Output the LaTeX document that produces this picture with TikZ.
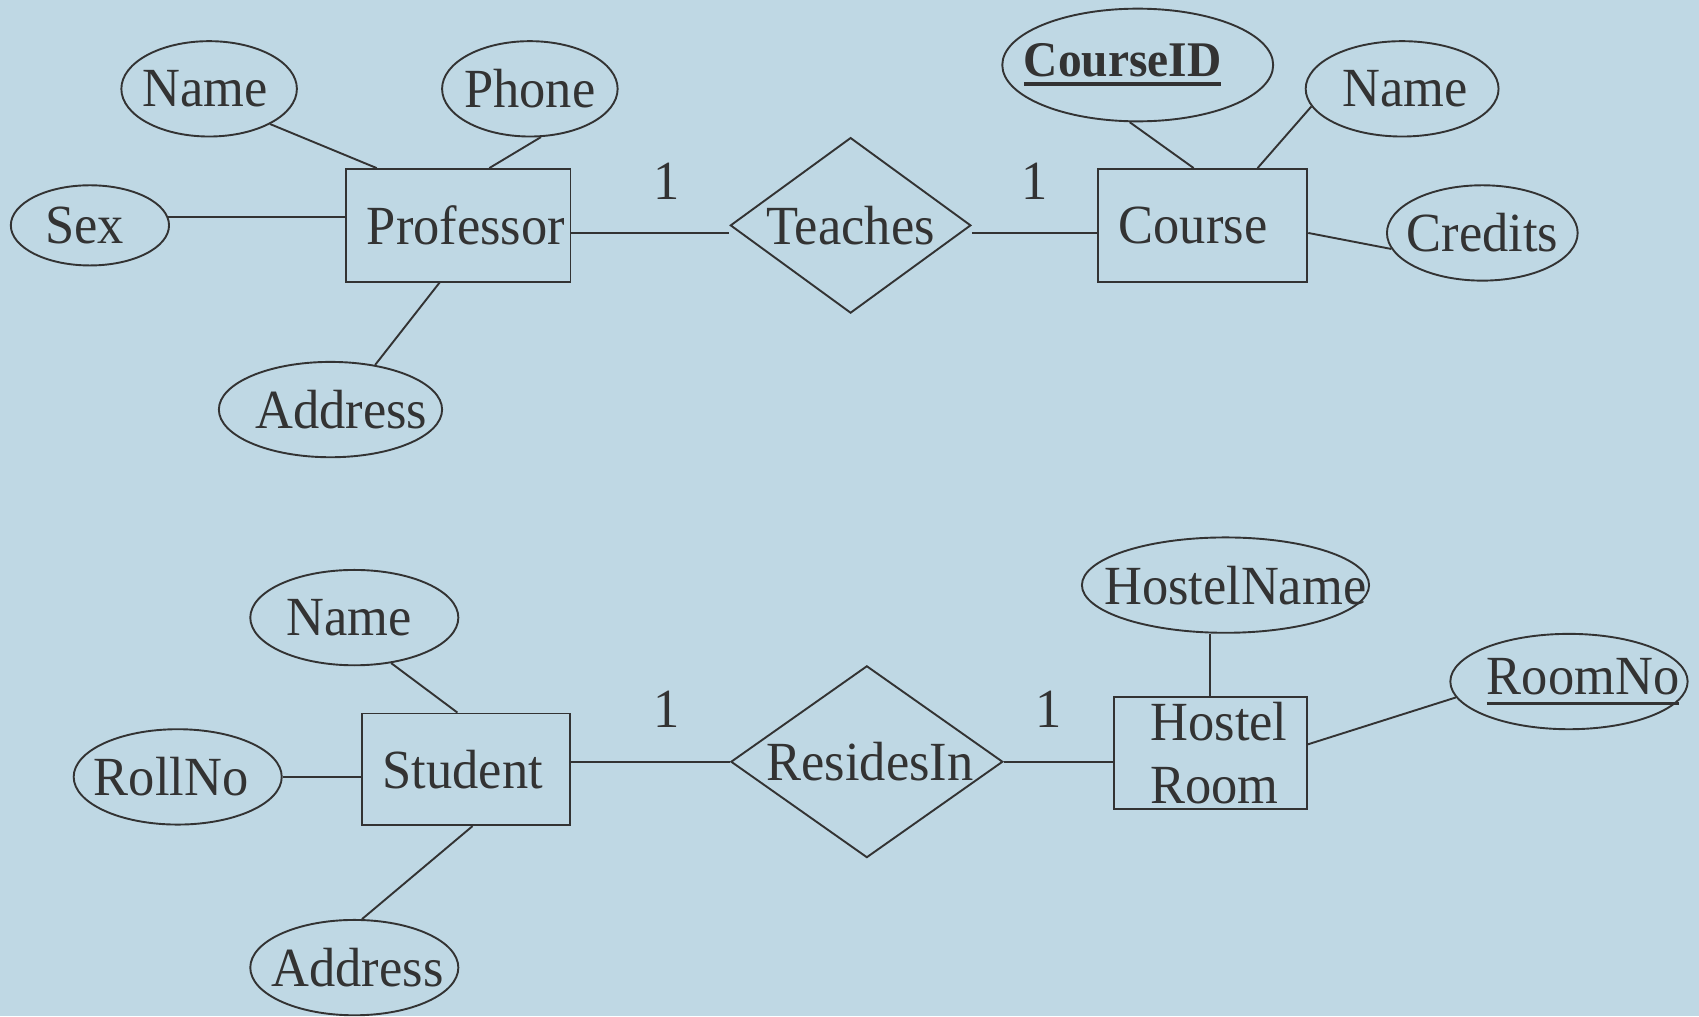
\documentclass[tikz,border=0pt]{standalone}
\usepackage{fontspec}
\setmainfont{Liberation Serif}[FakeStretch=0.95]
\usepackage{graphicx}
\usepackage{tikz}
\usetikzlibrary{shapes.geometric}

\definecolor{bgblue}{RGB}{191,216,228}
\definecolor{ink}{RGB}{51,51,51}
\newcommand{\nobox}[2][0pt]{\kern#1\makebox[0pt]{#2}\kern-#1}
\newcommand{\keyul}[3]{\setbox0=\hbox{#3}\rlap{\rule[#1]{\wd0}{#2}}\box0}
\tikzset{
  entity/.style 2 args={draw, rectangle, minimum width=#1, minimum height=#2, inner sep=0pt},
  attr/.style 2 args={draw, ellipse, minimum width=#1, minimum height=#2, inner sep=0pt},
  rel/.style 2 args={draw, diamond, minimum width=#1, minimum height=#2, inner sep=0pt},
}

\begin{document}
\begin{tikzpicture}[font=\fontsize{14.5}{16.5}\selectfont, color=ink, line width=0.5pt]
      \fill[bgblue] (0,0) rectangle (15.68,9.38);
      \useasboundingbox (0,0) rectangle (15.68,9.38);
      % professor teaches course
      \node[entity={2.07cm}{1.04cm}] (prof) at (4.23,7.30) {\nobox[0.07cm]{Professor}};
      \node[attr={1.62cm}{0.88cm}] (pname) at (1.93,8.56) {\nobox[-0.04cm]{Name}};
      \node[attr={1.62cm}{0.88cm}] (pphone) at (4.89,8.56) {\nobox{Phone}};
      \node[attr={1.46cm}{0.74cm}] (psex) at (0.83,7.30) {\nobox[-0.05cm]{Sex}};
      \node[attr={2.06cm}{0.88cm}] (paddr) at (3.05,5.60) {\nobox[0.10cm]{Address}};
      \node[rel={2.22cm}{1.62cm}] (teach) at (7.85,7.30) {\nobox{Teaches}};
      \node[entity={1.93cm}{1.04cm}] (course) at (11.10,7.30) {\nobox[-0.09cm]{Course}};
      \node[attr={2.50cm}{1.04cm}] (cid) at (10.50,8.78)
        {\nobox[-0.14cm]{\fontsize{13.1}{15}\selectfont\bfseries\keyul{-2.6pt}{1.2pt}{CourseID}}};
      \node[attr={1.78cm}{0.88cm}] (cname) at (12.94,8.56) {\nobox[0.03cm]{Name}};
      \node[attr={1.76cm}{0.88cm}] (credits) at (13.68,7.23) {\nobox{Credits}};
      \node (ta) at (6.15,7.71) {1};
      \node (tb) at (9.55,7.71) {1};
      \draw (pname.-30) -- ([xshift=0.29cm]prof.north west);
      \draw (pphone.-77) -- ([xshift=1.33cm]prof.north west);
      \draw (psex.6) -- (psex.6 -| prof.west);
      \draw (paddr.45) -- ([xshift=0.87cm]prof.south west);
      \draw ([yshift=-0.07cm]prof.east) -- ([yshift=-0.07cm]teach.west);
      \draw ([yshift=-0.07cm]teach.east) -- ([yshift=-0.07cm]course.west);
      \draw (cid.-98) -- ([xshift=0.89cm]course.north west);
      \draw (cname.191) -- ([xshift=1.48cm]course.north west);
      \draw ([yshift=-0.07cm]course.east) -- (credits.190);
      % student resides in hostel room
      \node[entity={1.92cm}{1.03cm}] (stud) at (4.30,2.28) {\nobox[-0.03cm]{Student}};
      \node[attr={1.92cm}{0.88cm}] (sname) at (3.27,3.68) {\nobox[-0.05cm]{Name}};
      \node[attr={1.92cm}{0.88cm}] (roll) at (1.64,2.21) {\nobox[-0.06cm]{RollNo}};
      \node[attr={1.92cm}{0.88cm}] (saddr) at (3.27,0.45) {\nobox[0.03cm]{Address}};
      \node[rel={2.51cm}{1.77cm}] (resides) at (8.00,2.35) {\nobox[0.03cm]{ResidesIn}};
      \node[entity={1.78cm}{1.03cm}, align=left] (hostel) at (11.17,2.43)
        {\hspace*{0.16cm}Hostel\\\hspace*{0.16cm}Room};
      \node[attr={2.65cm}{0.88cm}] (hname) at (11.31,3.98) {\nobox[0.09cm]{HostelName}};
      \node[attr={2.19cm}{0.88cm}] (roomno) at (14.48,3.09)
        {\nobox[0.13cm]{\keyul{-2.8pt}{0.7pt}{RoomNo}}};
      \node (ra) at (6.15,2.83) {1};
      \node (rb) at (9.68,2.83) {1};
      \draw (sname.-51) -- ([xshift=0.89cm]stud.north west);
      \draw (roll.east) -- (roll.east -| stud.west);
      \draw (saddr.81) -- ([xshift=1.03cm]stud.south west);
      \draw (resides.west) -- (resides.west -| stud.east);
      \draw (resides.east) -- (resides.east -| hostel.west);
      \draw (hostel.north) -- (hostel.north |- hname.south);
      \draw ([yshift=0.08cm]hostel.east) -- (roomno.188);
    \end{tikzpicture}
\end{document}
